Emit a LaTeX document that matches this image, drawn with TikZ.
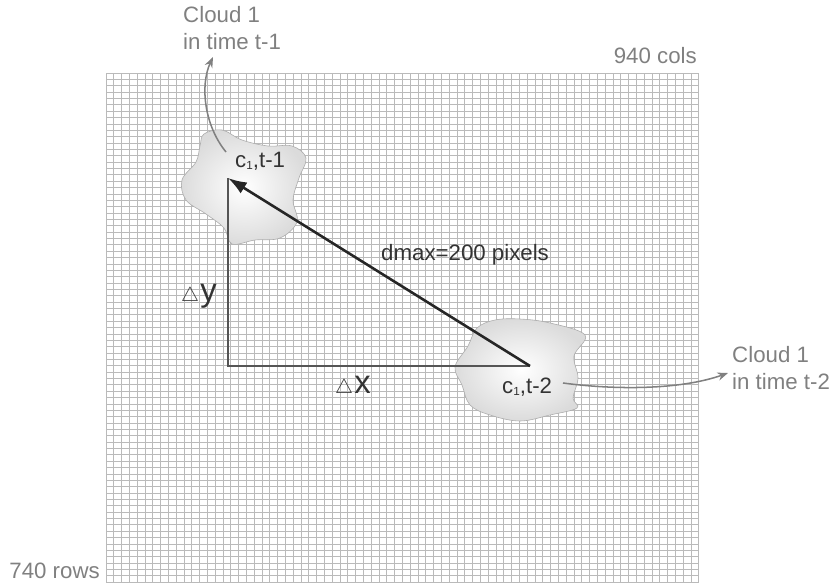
\documentclass[tikz,border=0pt]{standalone}
\usepackage{fontspec}
\setmainfont{Liberation Sans}
\usetikzlibrary{arrows.meta}

\definecolor{labgray}{HTML}{808080}
\definecolor{gridgray}{HTML}{BABABA}
\definecolor{inkgray}{HTML}{333333}
\definecolor{legray}{HTML}{555555}

\newcommand{\dtri}{{\fontsize{18}{18}\selectfont$\bigtriangleup$}\kern1pt}
\newcommand{\sbone}{\raisebox{-2.5pt}{\fontsize{10}{10}\selectfont 1}}

\tikzset{
  gridline/.style={gridgray, line width=0.55pt},
  cloudblob/.style={draw=gray!65, line width=0.5pt, shading=radial,
    inner color=white, outer color=gray!28},
  note/.style={labgray, font=\fontsize{19}{23}\selectfont, inner sep=0pt},
  ink/.style={inkgray, font=\fontsize{19}{23}\selectfont, inner sep=0pt},
  delta/.style={inkgray, font=\fontsize{28}{30}\selectfont, inner sep=0pt},
  pointer/.style={labgray, line width=1.3pt, -{Stealth[length=9pt, width=7pt]}},
  leg/.style={legray, line width=1.2pt},
  vec/.style={black!85, line width=2.2pt, -{Latex[length=16pt, width=11pt]}},
}

\begin{document}
\begin{tikzpicture}[x=0.03cm, y=-0.03cm]
    \useasboundingbox (0,0) rectangle (838,587);

    % image raster, 940 x 740
    \foreach \i in {0,...,76}
        \draw[gridline] ({106+\i*7.8},73) -- ({106+\i*7.8},582);
    \foreach \j in {0,...,80}
        \draw[gridline] (106,{73+\j*6.3625}) -- (699,{73+\j*6.3625});

    \node[note, anchor=base east] (cols) at (697,63) {940 cols};
    \node[note, anchor=base east] (rows) at (100,578) {740 rows};

    % the cloud at the two times
    \draw[cloudblob] plot[smooth cycle, tension=0.6] coordinates {
        (204,134) (222,130) (242,140) (268,146) (292,146) (306,158)
        (299,178) (293,200) (297,222) (280,238) (255,240) (232,244)
        (224,228) (206,214) (186,200) (182,180) (196,162) (200,146)};
    \draw[cloudblob] plot[smooth cycle, tension=0.6] coordinates {
        (477,328) (495,320) (520,319) (550,323) (585,335) (574,356)
        (578,378) (573,398) (577,408) (550,415) (520,421) (490,415)
        (470,405) (462,385) (455,367) (468,346)};

    \coordinate (c1) at (228,178);
    \coordinate (c2) at (530,366);

    \node[ink, anchor=base west] (c1lab) at (235,167) {c\sbone,t-1};
    \node[ink, anchor=base west] (c2lab) at (502,393) {c\sbone,t-2};

    % displacement
    \draw[leg] (c1) |- (c2);
    \draw[vec] (c2) -- (c1);

    \node[ink, anchor=base west] (dmax) at (381,260) {dmax=200 pixels};
    \node[delta, anchor=base west] (dy) at (181,301) {\dtri y};
    \node[delta, anchor=base west] (dx) at (335,393) {\dtri x};

    % callouts
    \node[note, anchor=north west, align=left] (t1lab) at (183,6) {Cloud 1\\in time t-1};
    \node[note, anchor=north west, align=left] (t2lab) at (732,346) {Cloud 1\\in time t-2};

    \coordinate (t1out) at (226,152);
    \coordinate (t1tip) at (213,57);
    \coordinate (t2out) at (563,383);
    \coordinate (t2tip) at (728,373);
    \draw[pointer] (t1out) .. controls (204,125) and (200,85) .. (t1tip);
    \draw[pointer] (t2out) .. controls (615,390) and (680,390) .. (t2tip);
\end{tikzpicture}
\end{document}
